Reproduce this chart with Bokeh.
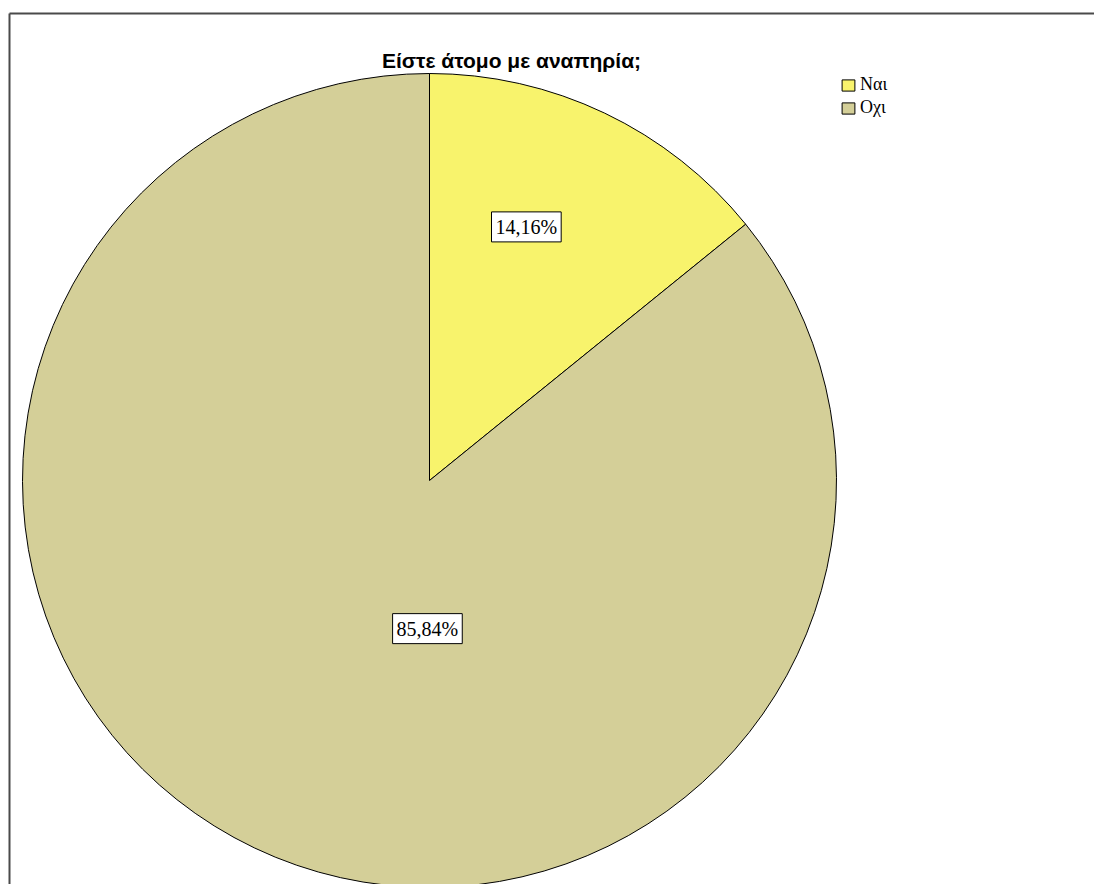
import math
from bokeh.plotting import figure
from bokeh.models import ColumnDataSource, Range1d, Label
from bokeh.embed import file_html
from bokeh.resources import INLINE

# ---- data ----
title_text = "Είστε άτομο με αναπηρία;"
categories = ["Ναι", "Οχι"]
percentages = [14.16, 85.84]
colors = ["#F8F36C", "#D4CF98"]

# ---- layout constants (screen pixels == data units) ----
W, H = 1094, 884
CX, CY, R = 429, 404, 407
LABEL_PLACEMENT = [(20.9, 0.667), (180.8, 0.364)]  # (deg clockwise from top, radius fraction)

total = sum(percentages)
starts, ends = [], []
acc = 0.0
for v in percentages:
    a0 = math.pi / 2 - 2 * math.pi * acc / total
    acc += v
    a1 = math.pi / 2 - 2 * math.pi * acc / total
    starts.append(a0)
    ends.append(a1)

src = ColumnDataSource(dict(
    start=starts, end=ends, color=colors, label=categories,
    x=[CX] * len(categories), y=[CY] * len(categories),
))

p = figure(width=W, height=H, output_backend="svg", toolbar_location=None,
           x_range=Range1d(0, W), y_range=Range1d(0, H), min_border=0)
p.axis.visible = False
p.grid.visible = False
p.outline_line_color = None
p.background_fill_color = "white"
p.border_fill_color = "white"

# frame border (top and left edges visible, meeting in a corner)
BX, BY = 9, H - 13
p.segment(x0=[BX, BX], y0=[BY, BY], x1=[BX, W + 10], y1=[-10, BY],
          line_color="#4a4a4a", line_width=2)

p.wedge(x="x", y="y", radius=R, start_angle="start", end_angle="end",
        direction="clock", fill_color="color", line_color="black",
        line_width=1, legend_field="label", source=src)

# title
p.add_layout(Label(x=511, y=H - 60, text=title_text, text_align="center",
                   text_baseline="alphabetic", text_font="Liberation Sans",
                   text_font_style="bold", text_font_size="21px", text_color="black"))

# percentage labels
for v, (ang, frac) in zip(percentages, LABEL_PLACEMENT):
    a = math.radians(ang)
    lx = CX + frac * R * math.sin(a)
    ly = CY + frac * R * math.cos(a)
    txt = f"{v:.2f}".replace(".", ",") + "%"
    p.add_layout(Label(x=lx, y=ly, text=txt, text_align="center",
                       text_baseline="middle", text_font="Liberation Serif",
                       text_font_size="20px", text_color="black",
                       background_fill_color="white", border_line_color="black",
                       border_line_width=1, padding=4))

lg = p.legend[0]
lg.location = (840, 766)
lg.orientation = "vertical"
lg.background_fill_alpha = 0
lg.border_line_color = None
lg.padding = 0
lg.margin = 0
lg.spacing = 2
lg.glyph_width = 16
lg.glyph_height = 14
lg.label_height = 14
lg.label_standoff = 4
lg.label_text_font = "Liberation Serif"
lg.label_text_font_size = "18px"
lg.label_text_color = "black"

open("out.html", "w").write(file_html(p, INLINE))
